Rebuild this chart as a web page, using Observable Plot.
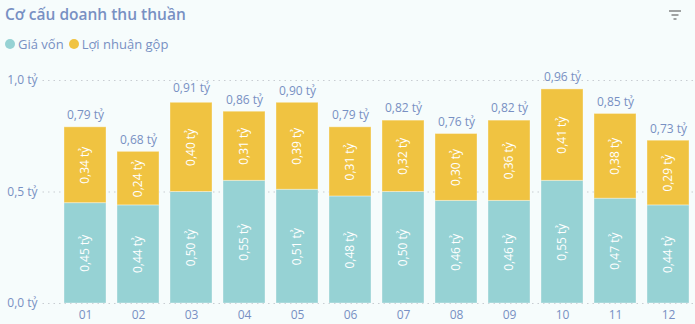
<!DOCTYPE html>
<html><head><meta charset="utf-8">
<script src="https://cdn.jsdelivr.net/npm/d3@7"></script>
<script src="https://cdn.jsdelivr.net/npm/@observablehq/plot@0.6"></script>
<style>
html,body{margin:0;padding:0;background:#f6fcfc;width:695px;height:324px;overflow:hidden;font-family:"Open Sans","Segoe UI",sans-serif;}
#wrap{position:relative;width:695px;height:324px;}
#title{position:absolute;left:5px;top:3px;font-size:15.5px;color:#7890c3;font-weight:600;}
#legend{position:absolute;left:5px;top:35px;font-size:13px;color:#7890c3;display:flex;align-items:center;}
.sw{display:inline-block;width:10px;height:10px;border-radius:50%;margin-right:3px;}
.it{display:flex;align-items:center;margin-right:5px;}
#icon{position:absolute;left:668px;top:8px;}
#chart{position:absolute;left:0;top:60px;}
</style></head>
<body><div id="wrap">
<div id="title">Cơ cấu doanh thu thuần</div>
<div id="legend"></div>
<svg id="icon" width="14" height="14"><g stroke="#666" stroke-width="1.2"><line x1="1" y1="3" x2="13" y2="3"/><line x1="3.5" y1="7" x2="10.5" y2="7"/><line x1="5.5" y1="11" x2="8.5" y2="11"/></g></svg>
<div id="chart"></div>
</div>
<script>
const months = ["01","02","03","04","05","06","07","08","09","10","11","12"];
const giaVon = [0.45,0.44,0.50,0.55,0.51,0.48,0.50,0.46,0.46,0.55,0.47,0.44];
const loiNhuan = [0.34,0.24,0.40,0.31,0.39,0.31,0.32,0.30,0.36,0.41,0.38,0.29];
const totals = [0.79,0.68,0.91,0.86,0.90,0.79,0.82,0.76,0.82,0.96,0.85,0.73];
const seriesNames = ["Giá vốn","Lợi nhuận gộp"];
const colors = ["#96d2d4","#f0c341"];
const yTicks = [0, 0.5, 1.0];

const fmt = v => v.toFixed(2).replace(".", ",") + " tỷ";
const rows = [];
months.forEach((m,i)=>{
  rows.push({m, s: seriesNames[0], v: giaVon[i]});
  rows.push({m, s: seriesNames[1], v: loiNhuan[i]});
});
const totalRows = months.map((m,i)=>({m, v: totals[i]}));

const leg = document.getElementById("legend");
seriesNames.forEach((n,i)=>{
  const d = document.createElement("span"); d.className="it";
  d.innerHTML = `<span class="sw" style="background:${colors[i]}"></span>${n}`;
  leg.appendChild(d);
});

const textColor = "#7890c3";
const plot = Plot.plot({
  width: 695, height: 264,
  marginLeft: 58.5, marginRight: 0.5, marginTop: 20, marginBottom: 21,
  style: {background: "transparent", fontFamily: "'Open Sans','Segoe UI',sans-serif", fontSize: "12px", color: textColor},
  x: {domain: months, paddingInner: 0.2, paddingOuter: 0.1, label: null},
  y: {domain: [0, 1], label: null},
  color: {domain: seriesNames, range: colors},
  marks: [
    Plot.ruleY(yTicks, {stroke: "#c8cdd2", strokeDasharray: "1.5,4", strokeWidth: 1, insetLeft: -16, insetRight: 0}),
    Plot.barY(rows, {x: "m", y: "v", fill: "s", stroke: "#ffffff", strokeOpacity: 0.35, strokeWidth: 1, order: seriesNames}),
    Plot.text(rows, Plot.stackY({x: "m", y: "v", z: "s", order: seriesNames, text: d => fmt(d.v), rotate: -90, fill: "white", fontSize: 12})),
    Plot.text(totalRows, {x: "m", y: "v", text: d => fmt(d.v), dy: -12, fill: textColor, fontSize: 12}),
    Plot.axisY(yTicks, {tickSize: 0, tickPadding: 21.5, tickFormat: d => d.toFixed(1).replace(".", ",") + " tỷ", fill: textColor, fontSize: 12, label: null}),
    Plot.axisX({tickSize: 0, tickPadding: 7, fill: textColor, fontSize: 12, label: null})
  ]
});
document.getElementById("chart").appendChild(plot);
</script>
</body></html>
